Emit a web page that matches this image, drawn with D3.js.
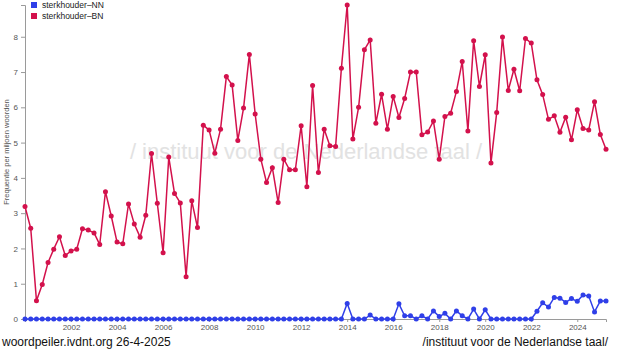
<!DOCTYPE html>
<html>
<head>
<meta charset="utf-8">
<script src="https://cdn.jsdelivr.net/npm/d3@7"></script>
<style>
  html, body { margin: 0; padding: 0; background: #fff; }
  svg { display: block; font-family: "Liberation Sans", Arial, sans-serif; }
</style>
</head>
<body>
<svg id="chart" width="630" height="350"></svg>
<script>
// quarterly periods, 2000 Q1 .. 2025 Q2
const firstPeriod = "2000-01-01";
const lastPeriod = "2025-04-01";

const seriesNames = ["sterkhouder\u2013NN", "sterkhouder\u2013BN"];

const nnValues = [
  0, 0, 0, 0, 0, 0, 0, 0, 0, 0,
  0, 0, 0, 0, 0, 0, 0, 0, 0, 0,
  0, 0, 0, 0, 0, 0, 0, 0, 0, 0,
  0, 0, 0, 0, 0, 0, 0, 0, 0, 0,
  0, 0, 0, 0, 0, 0, 0, 0, 0, 0,
  0, 0, 0, 0, 0, 0, 0.44, 0, 0, 0,
  0.11, 0, 0, 0, 0, 0.43, 0.09, 0.09, 0, 0.09,
  0, 0.23, 0.07, 0.16, 0, 0.23, 0.09, 0, 0.28, 0,
  0.26, 0, 0, 0, 0, 0, 0, 0, 0, 0.22,
  0.46, 0.34, 0.61, 0.59, 0.47, 0.58, 0.50, 0.68, 0.65, 0.20,
  0.51, 0.51
];

const bnValues = [
  3.19, 2.57, 0.52, 0.98, 1.60, 1.98, 2.33, 1.80, 1.93, 1.98,
  2.56, 2.52, 2.44, 2.11, 3.61, 2.92, 2.18, 2.13, 3.26, 2.69,
  2.32, 2.94, 4.69, 3.28, 1.88, 4.59, 3.56, 3.29, 1.20, 3.35,
  2.59, 5.49, 5.36, 4.70, 5.38, 6.87, 6.63, 5.06, 5.98, 7.50,
  5.81, 4.53, 3.87, 4.29, 3.30, 4.53, 4.23, 4.23, 5.48, 3.75,
  6.62, 4.15, 5.38, 4.91, 4.89, 7.11, 8.90, 5.10, 6.00, 7.63,
  7.91, 5.55, 6.37, 5.38, 6.31, 5.71, 6.25, 7.00, 7.00, 5.22,
  5.30, 5.61, 4.53, 5.74, 5.83, 6.45, 7.30, 5.33, 7.89, 6.59,
  7.49, 4.42, 5.85, 7.99, 6.48, 7.08, 6.47, 7.95, 7.82, 6.78,
  6.36, 5.66, 5.76, 5.29, 5.72, 5.08, 5.93, 5.40, 5.36, 6.16,
  5.23, 4.81
];

const yTicks = [0, 1, 2, 3, 4, 5, 6, 7, 8];
const xTickYears = [2002, 2004, 2006, 2008, 2010, 2012, 2014, 2016, 2018, 2020, 2022, 2024];

const colors = {
  nn: "#2f3fe8",
  bn: "#d3114c",
  axis: "#9a9a9a",
  tickText: "#555",
  watermark: "#e2e2e2",
};

const margin = { left: 25, right: 24, top: 5, bottom: 31 };
const width = 630, height = 350;

const svg = d3.select("#chart");

const start = new Date(firstPeriod);
const end = new Date(lastPeriod);
const periods = d3.utcMonth.every(3).range(start, d3.utcDay.offset(end, 1));

const series = [
  { name: seriesNames[0], color: colors.nn, values: nnValues },
  { name: seriesNames[1], color: colors.bn, values: bnValues },
];

const x = d3.scaleUtc()
  .domain([start, end])
  .range([margin.left, width - margin.right]);

const y = d3.scaleLinear()
  .domain([0, d3.max(bnValues)])
  .range([height - margin.bottom, margin.top]);

// watermark behind the lines
svg.append("text")
  .attr("x", 306)
  .attr("y", 159)
  .attr("text-anchor", "middle")
  .attr("font-size", 22)
  .attr("fill", colors.watermark)
  .text("/ instituut voor de Nederlandse taal /");

// axes
const xAxis = svg.append("g")
  .attr("transform", `translate(0,${height - margin.bottom})`)
  .call(d3.axisBottom(x)
    .tickValues(xTickYears.map((yr) => new Date(Date.UTC(yr, 0, 1))))
    .tickFormat(d3.utcFormat("%Y"))
    .tickSize(3)
    .tickPadding(2));

const yAxis = svg.append("g")
  .attr("transform", `translate(${margin.left},0)`)
  .call(d3.axisLeft(y).tickValues(yTicks).tickSize(4).tickPadding(3));

[xAxis, yAxis].forEach((g) => {
  g.select(".domain").attr("stroke", colors.axis);
  g.selectAll(".tick line").attr("stroke", colors.axis);
  g.selectAll(".tick text")
    .attr("fill", colors.tickText)
    .attr("font-size", 8)
    .attr("font-family", "Liberation Sans, Arial, sans-serif");
});

svg.append("text")
  .attr("transform", `translate(9,152) rotate(-90)`)
  .attr("text-anchor", "middle")
  .attr("font-size", 7.5)
  .attr("fill", colors.tickText)
  .text("Frequentie per miljoen woorden");

// lines and dots
const line = d3.line()
  .x((d) => x(d.date))
  .y((d) => y(d.value));

series.forEach((s) => {
  const pts = s.values.map((v, i) => ({ date: periods[i], value: v }));
  const g = svg.append("g");
  g.append("path")
    .datum(pts)
    .attr("fill", "none")
    .attr("stroke", s.color)
    .attr("stroke-width", 1.5)
    .attr("d", line);
  g.selectAll("circle")
    .data(pts)
    .join("circle")
    .attr("cx", (d) => x(d.date))
    .attr("cy", (d) => y(d.value))
    .attr("r", 2.5)
    .attr("fill", s.color);
});

// legend
const legend = svg.append("g").selectAll("g")
  .data(series)
  .join("g")
  .attr("transform", (d, i) => `translate(31,${2 + i * 11})`);

legend.append("rect")
  .attr("width", 6)
  .attr("height", 6)
  .attr("fill", (d) => d.color);

legend.append("text")
  .attr("x", 11)
  .attr("y", 6)
  .attr("font-size", 8.5)
  .attr("fill", "#222")
  .text((d) => d.name);

// footer
svg.append("text")
  .attr("x", 2)
  .attr("y", 346)
  .attr("font-size", 12)
  .attr("fill", "#111")
  .text("woordpeiler.ivdnt.org 26-4-2025");

svg.append("text")
  .attr("x", 608)
  .attr("y", 346)
  .attr("text-anchor", "end")
  .attr("font-size", 12)
  .attr("fill", "#111")
  .text("/instituut voor de Nederlandse taal/");
</script>
</body>
</html>
